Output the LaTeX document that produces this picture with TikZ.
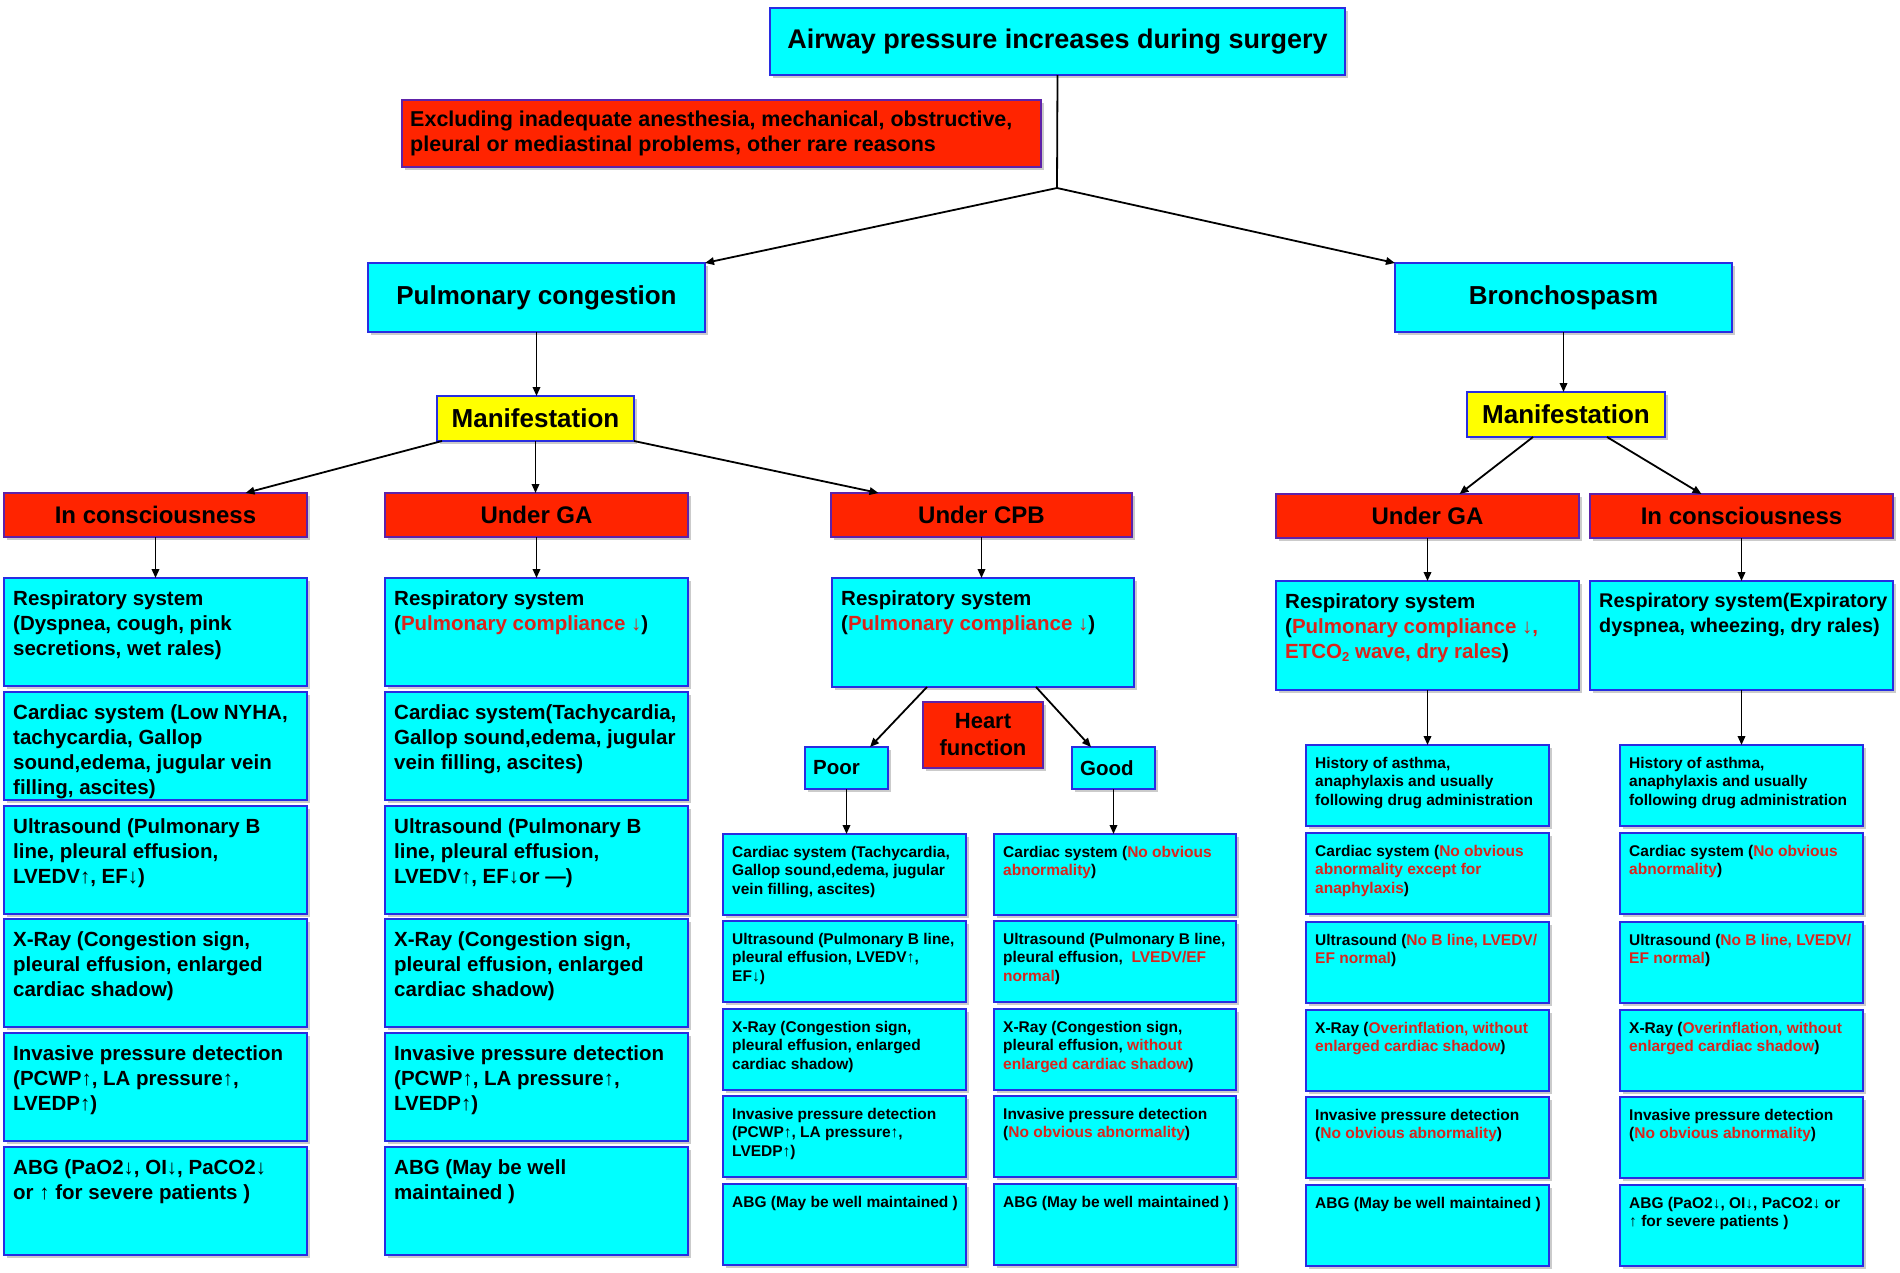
\documentclass[tikz,border=0pt]{standalone}
\usepackage{fontspec}
\setmainfont{Liberation Sans}
\usetikzlibrary{arrows.meta,shadows}
\definecolor{cy}{RGB}{0,255,255}
\definecolor{bdr}{RGB}{40,45,225}
\definecolor{rdf}{RGB}{255,36,0}
\definecolor{yl}{RGB}{255,255,0}
\definecolor{rt}{RGB}{218,36,28}
\newcommand\rtx[1]{\textcolor{rt}{#1}}
\newcommand\subtwo{\raisebox{-3pt}{\fontsize{13}{13}\selectfont 2}}
% box with text at top-left
\newcommand\tbox[8]{%
  \pgfmathsetmacro\bw{#4-#2}\pgfmathsetmacro\bh{#5-#3}%
  \node[#6, minimum width=\bw pt, minimum height=\bh pt, anchor=north west] (#1) at (#2,#3) {};%
  \node[#7] (#1t) at ([xshift=9pt,yshift=-12pt]#1.north west) {#8};}
% box with centred text
\newcommand\cbox[7]{%
  \pgfmathsetmacro\bw{#4-#2}\pgfmathsetmacro\bh{#5-#3}%
  \node[#6, minimum width=\bw pt, minimum height=\bh pt, anchor=north west] (#1) at (#2,#3) {#7};}
% box with left text, vertically centred
\newcommand\lbox[8]{%
  \pgfmathsetmacro\bw{#4-#2}\pgfmathsetmacro\bh{#5-#3}%
  \node[#6, minimum width=\bw pt, minimum height=\bh pt, anchor=north west] (#1) at (#2,#3) {};%
  \node[#7, anchor=west] (#1t) at ([xshift=8pt]#1.west) {#8};}
\tikzset{
  bx/.style={draw=bdr, line width=2.2pt, fill=cy, inner sep=0pt, outer sep=0pt,
    drop shadow={shadow xshift=2.5pt, shadow yshift=-2.5pt, fill=black!45, opacity=0.45}},
  rbx/.style={bx, fill=rdf, draw=bdr!75!red},
  ybx/.style={bx, fill=yl},
  tbig/.style={font=\fontsize{20.5}{25}\selectfont\bfseries, align=left, inner sep=0pt, anchor=north west},
  tsmall/.style={font=\fontsize{15.5}{18.5}\selectfont\bfseries, align=left, inner sep=0pt, anchor=north west},
  fhead/.style={font=\fontsize{26}{30}\selectfont\bfseries},
  fred/.style={font=\fontsize{24}{28}\selectfont\bfseries},
  arr/.style={-{Triangle[length=9pt,width=7.5pt]}, line width=1.8pt},
  ln/.style={line width=1.8pt},
}
\begin{document}
\begin{tikzpicture}[x=1pt,y=-1pt]
\useasboundingbox (0,0) rectangle (1900,1272);
% top
\cbox{top}{770}{8}{1345}{75}{bx, font=\fontsize{27}{32}\selectfont\bfseries}{Airway pressure increases during surgery}
\lbox{excl}{402}{100}{1041}{167}{rbx}{tbig, font=\fontsize{21.5}{25}\selectfont\bfseries}{Excluding inadequate anesthesia, mechanical, obstructive,\\pleural or mediastinal problems, other rare reasons}
\coordinate (J) at (1057,188);
\cbox{pc}{368}{263}{705}{332}{bx, fhead}{Pulmonary congestion}
\cbox{bs}{1395}{263}{1732}{332}{bx, fhead}{Bronchospasm}
\cbox{mL}{437}{396}{634}{441}{ybx, fhead}{Manifestation}
\cbox{mR}{1467}{392}{1665}{437}{ybx, fhead}{Manifestation}
% red headers
\cbox{icL}{4}{493}{307}{537}{rbx, fred}{In consciousness}
\cbox{gaL}{385}{493}{688}{537}{rbx, fred}{Under GA}
\cbox{cpb}{831}{493}{1132}{537}{rbx, fred}{Under CPB}
\cbox{gaR}{1276}{494}{1579}{538}{rbx, fred}{Under GA}
\cbox{icR}{1590}{494}{1893}{538}{rbx, fred}{In consciousness}
% column 1
\tbox{a1}{4}{578}{307}{686}{bx}{tbig}{Respiratory system\\(Dyspnea, cough, pink\\secretions, wet rales)}
\tbox{a2}{4}{692}{307}{800}{bx}{tbig}{Cardiac system (Low NYHA,\\tachycardia, Gallop\\sound,edema, jugular vein\\filling, ascites)}
\tbox{a3}{4}{806}{307}{914}{bx}{tbig}{Ultrasound (Pulmonary B\\line, pleural effusion,\\LVEDV↑, EF↓)}
\tbox{a4}{4}{919}{307}{1027}{bx}{tbig}{X-Ray (Congestion sign,\\pleural effusion, enlarged\\cardiac shadow)}
\tbox{a5}{4}{1033}{307}{1141}{bx}{tbig}{Invasive pressure detection\\(PCWP↑, LA pressure↑,\\LVEDP↑)}
\tbox{a6}{4}{1147}{307}{1255}{bx}{tbig}{ABG (PaO2↓, OI↓, PaCO2↓\\or ↑ for severe patients )}
% column 2
\tbox{b1}{385}{578}{688}{686}{bx}{tbig}{Respiratory system\\(\rtx{Pulmonary compliance ↓})}
\tbox{b2}{385}{692}{688}{800}{bx}{tbig}{Cardiac system(Tachycardia,\\Gallop sound,edema, jugular\\vein filling, ascites)}
\tbox{b3}{385}{806}{688}{914}{bx}{tbig}{Ultrasound (Pulmonary B\\line, pleural effusion,\\LVEDV↑, EF↓or —)}
\tbox{b4}{385}{919}{688}{1027}{bx}{tbig}{X-Ray (Congestion sign,\\pleural effusion, enlarged\\cardiac shadow)}
\tbox{b5}{385}{1033}{688}{1141}{bx}{tbig}{Invasive pressure detection\\(PCWP↑, LA pressure↑,\\LVEDP↑)}
\tbox{b6}{385}{1147}{688}{1255}{bx}{tbig}{ABG (May be well\\maintained )}
% CPB
\tbox{c0}{832}{578}{1134}{687}{bx}{tbig}{Respiratory system\\(\rtx{Pulmonary compliance ↓})}
\cbox{hf}{923}{702}{1043}{768}{rbx, font=\fontsize{22}{27}\selectfont\bfseries, align=center}{Heart\\function}
\lbox{poor}{805}{747}{888}{789}{bx}{tbig}{Poor}
\lbox{good}{1072}{747}{1155}{789}{bx}{tbig}{Good}
\tbox{p1}{723}{834}{966}{915}{bx}{tsmall}{Cardiac system (Tachycardia,\\Gallop sound,edema, jugular\\vein filling, ascites)}
\tbox{p2}{723}{921}{966}{1002}{bx}{tsmall}{Ultrasound (Pulmonary B line,\\pleural effusion, LVEDV↑,\\EF↓)}
\tbox{p3}{723}{1009}{966}{1090}{bx}{tsmall}{X-Ray (Congestion sign,\\pleural effusion, enlarged\\cardiac shadow)}
\tbox{p4}{723}{1096}{966}{1177}{bx}{tsmall}{Invasive pressure detection\\(PCWP↑, LA pressure↑,\\LVEDP↑)}
\tbox{p5}{723}{1184}{966}{1265}{bx}{tsmall}{ABG (May be well maintained )}
\tbox{g1}{994}{834}{1236}{915}{bx}{tsmall}{Cardiac system (\rtx{No obvious}\\\rtx{abnormality})}
\tbox{g2}{994}{921}{1236}{1002}{bx}{tsmall}{Ultrasound (Pulmonary B line,\\pleural effusion,~~\rtx{LVEDV/EF}\\\rtx{normal})}
\tbox{g3}{994}{1009}{1236}{1090}{bx}{tsmall}{X-Ray (Congestion sign,\\pleural effusion, \rtx{without}\\\rtx{enlarged cardiac shadow})}
\tbox{g4}{994}{1096}{1236}{1177}{bx}{tsmall}{Invasive pressure detection\\(\rtx{No obvious abnormality})}
\tbox{g5}{994}{1184}{1236}{1265}{bx}{tsmall}{ABG (May be well maintained )}
% Bronchospasm / Under GA
\tbox{d0}{1276}{581}{1579}{690}{bx}{tbig}{Respiratory system\\(\rtx{Pulmonary compliance ↓,}\\\rtx{ETCO\subtwo{} wave, dry rales})}
\tbox{d1}{1306}{745}{1549}{826}{bx}{tsmall}{History of asthma,\\anaphylaxis and usually\\following drug administration}
\tbox{d2}{1306}{833}{1549}{914}{bx}{tsmall}{Cardiac system (\rtx{No obvious}\\\rtx{abnormality except for}\\\rtx{anaphylaxis})}
\tbox{d3}{1306}{922}{1549}{1003}{bx}{tsmall}{Ultrasound (\rtx{No B line, LVEDV/}\\\rtx{EF normal})}
\tbox{d4}{1306}{1010}{1549}{1091}{bx}{tsmall}{X-Ray (\rtx{Overinflation, without}\\\rtx{enlarged cardiac shadow})}
\tbox{d5}{1306}{1097}{1549}{1178}{bx}{tsmall}{Invasive pressure detection\\(\rtx{No obvious abnormality})}
\tbox{d6}{1306}{1185}{1549}{1266}{bx}{tsmall}{ABG (May be well maintained )}
% Bronchospasm / In consciousness
\tbox{e0}{1590}{581}{1893}{690}{bx}{tbig, font=\fontsize{19.8}{25}\selectfont\bfseries}{Respiratory system(Expiratory\\dyspnea, wheezing, dry rales)}
\tbox{e1}{1620}{745}{1863}{826}{bx}{tsmall}{History of asthma,\\anaphylaxis and usually\\following drug administration}
\tbox{e2}{1620}{833}{1863}{914}{bx}{tsmall}{Cardiac system (\rtx{No obvious}\\\rtx{abnormality})}
\tbox{e3}{1620}{922}{1863}{1003}{bx}{tsmall}{Ultrasound (\rtx{No B line, LVEDV/}\\\rtx{EF normal})}
\tbox{e4}{1620}{1010}{1863}{1091}{bx}{tsmall}{X-Ray (\rtx{Overinflation, without}\\\rtx{enlarged cardiac shadow})}
\tbox{e5}{1620}{1097}{1863}{1178}{bx}{tsmall}{Invasive pressure detection\\(\rtx{No obvious abnormality})}
\tbox{e6}{1620}{1185}{1863}{1266}{bx}{tsmall}{ABG (PaO2↓, OI↓, PaCO2↓ or\\↑ for severe patients )}
% connectors
\draw[ln] (top.south) -- (J);
\draw[arr] (J) -- (pc.north east);
\draw[arr] (J) -- (bs.north west);
\draw[arr] (pc.south) -- (pc.south |- mL.north);
\draw[arr] (bs.south) -- (bs.south |- mR.north);
\draw[arr] ([xshift=5pt]mL.south west) -- ([xshift=90pt]icL.north);
\draw[arr] (mL.south) -- (mL.south |- gaL.north);
\draw[arr] (mL.south east) -- ([xshift=-103pt]cpb.north);
\draw[arr] ([xshift=66pt]mR.south west) -- ([xshift=32pt]gaR.north);
\draw[arr] ([xshift=-58pt]mR.south east) -- ([xshift=-40pt]icR.north);
\draw[arr] (icL.south) -- (a1.north);
\draw[arr] (gaL.south) -- (b1.north);
\draw[arr] (cpb.south) -- (cpb.south |- c0.north);
\draw[arr] (gaR.south) -- (d0.north);
\draw[arr] (icR.south) -- (e0.north);
\draw[arr] ([xshift=95pt]c0.south west) -- ([xshift=-18pt]poor.north east);
\draw[arr] ([xshift=-98pt]c0.south east) -- ([xshift=19pt]good.north west);
\draw[arr] (poor.south) -- (poor.south |- p1.north);
\draw[arr] (good.south) -- (good.south |- g1.north);
\draw[arr] (d0.south) -- (d0.south |- d1.north);
\draw[arr] (e0.south) -- (e0.south |- e1.north);
\end{tikzpicture}
\end{document}
